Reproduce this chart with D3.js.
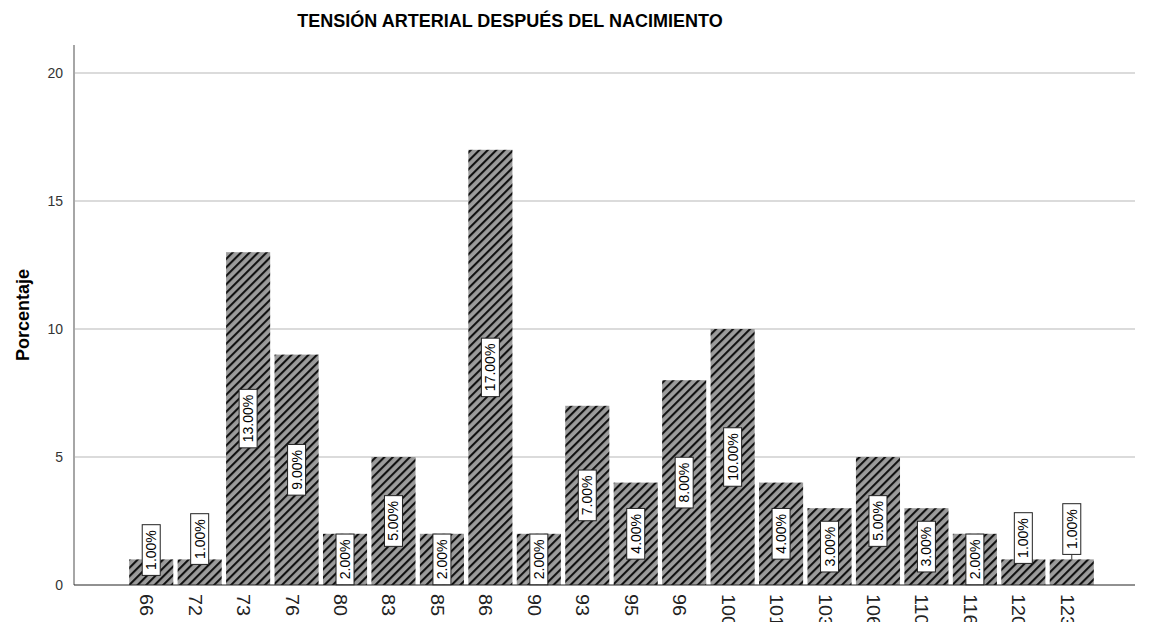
<!DOCTYPE html>
<html>
<head>
<meta charset="utf-8">
<script src="https://cdn.jsdelivr.net/npm/d3@7"></script>
<style>
  body { margin: 0; background: #fff; }
  svg { display: block; font-family: "Liberation Sans", Arial, sans-serif; }
</style>
</head>
<body>
<svg width="1149" height="622"></svg>
<script>
// data
let categories = ["66", "72", "73", "76", "80", "83", "85", "86", "90", "93",
                  "95", "96", "100", "101", "103", "106", "110", "116", "120", "123"];
let percents = [1, 1, 13, 9, 2, 5, 2, 17, 2, 7, 4, 8, 10, 4, 3, 5, 3, 2, 1, 1];
let yTicks = [0, 5, 10, 15, 20];

let svg = d3.select("svg");

let x = d3.scaleBand()
    .domain(categories)
    .range([127, 1096])
    .paddingInner(0.09)
    .paddingOuter(0.045);

let y = d3.scaleLinear()
    .domain([0, 20])
    .range([585, 73]);

// hatch pattern
let defs = svg.append("defs");
let pat = defs.append("pattern")
    .attr("id", "hatch")
    .attr("patternUnits", "userSpaceOnUse")
    .attr("width", 6)
    .attr("height", 6)
    .attr("patternTransform", "rotate(45)");
pat.append("rect").attr("width", 6).attr("height", 6).attr("fill", "#9c9c9c");
pat.append("line")
    .attr("x1", 1).attr("y1", 0).attr("x2", 1).attr("y2", 6)
    .attr("stroke", "#111").attr("stroke-width", 2.2);

// title
svg.append("text")
    .attr("x", 510)
    .attr("y", 27)
    .attr("text-anchor", "middle")
    .style("font-size", "18px")
    .style("font-weight", "bold")
    .text("TENSIÓN ARTERIAL DESPUÉS DEL NACIMIENTO");

// gridlines
svg.append("g")
    .selectAll("line")
    .data(yTicks.filter(d => d > 0))
    .enter().append("line")
    .attr("x1", 75).attr("x2", 1135)
    .attr("y1", d => y(d)).attr("y2", d => y(d))
    .attr("stroke", "#cfcfcf")
    .attr("stroke-width", 1.5);

// y axis
let yAxis = svg.append("g")
    .attr("transform", "translate(74,0)")
    .call(d3.axisLeft(y).tickValues(yTicks).tickSize(0).tickPadding(11));
yAxis.select(".domain").remove();
yAxis.selectAll("text").style("font-size", "14px").attr("fill", "#333");

svg.append("line")
    .attr("x1", 74).attr("x2", 74)
    .attr("y1", 45).attr("y2", 585)
    .attr("stroke", "#888").attr("stroke-width", 1.5);

svg.append("text")
    .attr("transform", "translate(29,315) rotate(-90)")
    .attr("text-anchor", "middle")
    .style("font-size", "18px")
    .style("font-weight", "bold")
    .text("Porcentaje");

// bars
svg.append("g")
    .selectAll("rect")
    .data(percents)
    .enter().append("rect")
    .attr("x", (d, i) => x(categories[i]))
    .attr("width", x.bandwidth())
    .attr("y", d => y(d))
    .attr("height", d => y(0) - y(d))
    .attr("fill", "url(#hatch)");

// x axis line
svg.append("line")
    .attr("x1", 74).attr("x2", 1135)
    .attr("y1", 585).attr("y2", 585)
    .attr("stroke", "#222").attr("stroke-width", 1);

// x tick labels, rotated
svg.append("g")
    .selectAll("text")
    .data(categories)
    .enter().append("text")
    .attr("transform", d => "translate(" + (x(d) + x.bandwidth() / 2 - 11) + ",594) rotate(90) scale(1.1,1)")
    .style("font-size", "18px")
    .attr("fill", "#222")
    .text(d => d);

// value labels
// small bars get their label lifted above the bar (offset of box bottom from bar top)
let lifted = { "66": 16, "72": 5, "120": 4, "123": -5 };

let lab = svg.append("g")
    .selectAll("g")
    .data(percents)
    .enter().append("g");

lab.each(function (d, i) {
    let g = d3.select(this);
    let cx = x(categories[i]) + x.bandwidth() / 2;
    let t = g.append("text")
        .attr("text-anchor", "middle")
        .style("font-size", "14px")
        .text(d.toFixed(2) + "%");
    let len = t.node().getComputedTextLength();
    let h = len + 11;
    let cy = (y(d) + y(0)) / 2;
    let cat = categories[i];
    if (cat in lifted) {
        cy = y(d) + lifted[cat] - h / 2;
        if (lifted[cat] < 0) {
            g.append("line")
                .attr("x1", cx).attr("x2", cx)
                .attr("y1", cy + h / 2).attr("y2", y(d))
                .attr("stroke", "#333");
        }
    }
    g.insert("rect", "text")
        .attr("x", cx - 9)
        .attr("y", cy - h / 2)
        .attr("width", 18)
        .attr("height", h)
        .attr("fill", "#fff")
        .attr("stroke", "#222")
        .attr("stroke-width", 1);
    t.attr("transform", "translate(" + (cx + 5) + "," + cy + ") rotate(-90)");
});
</script>
</body>
</html>
